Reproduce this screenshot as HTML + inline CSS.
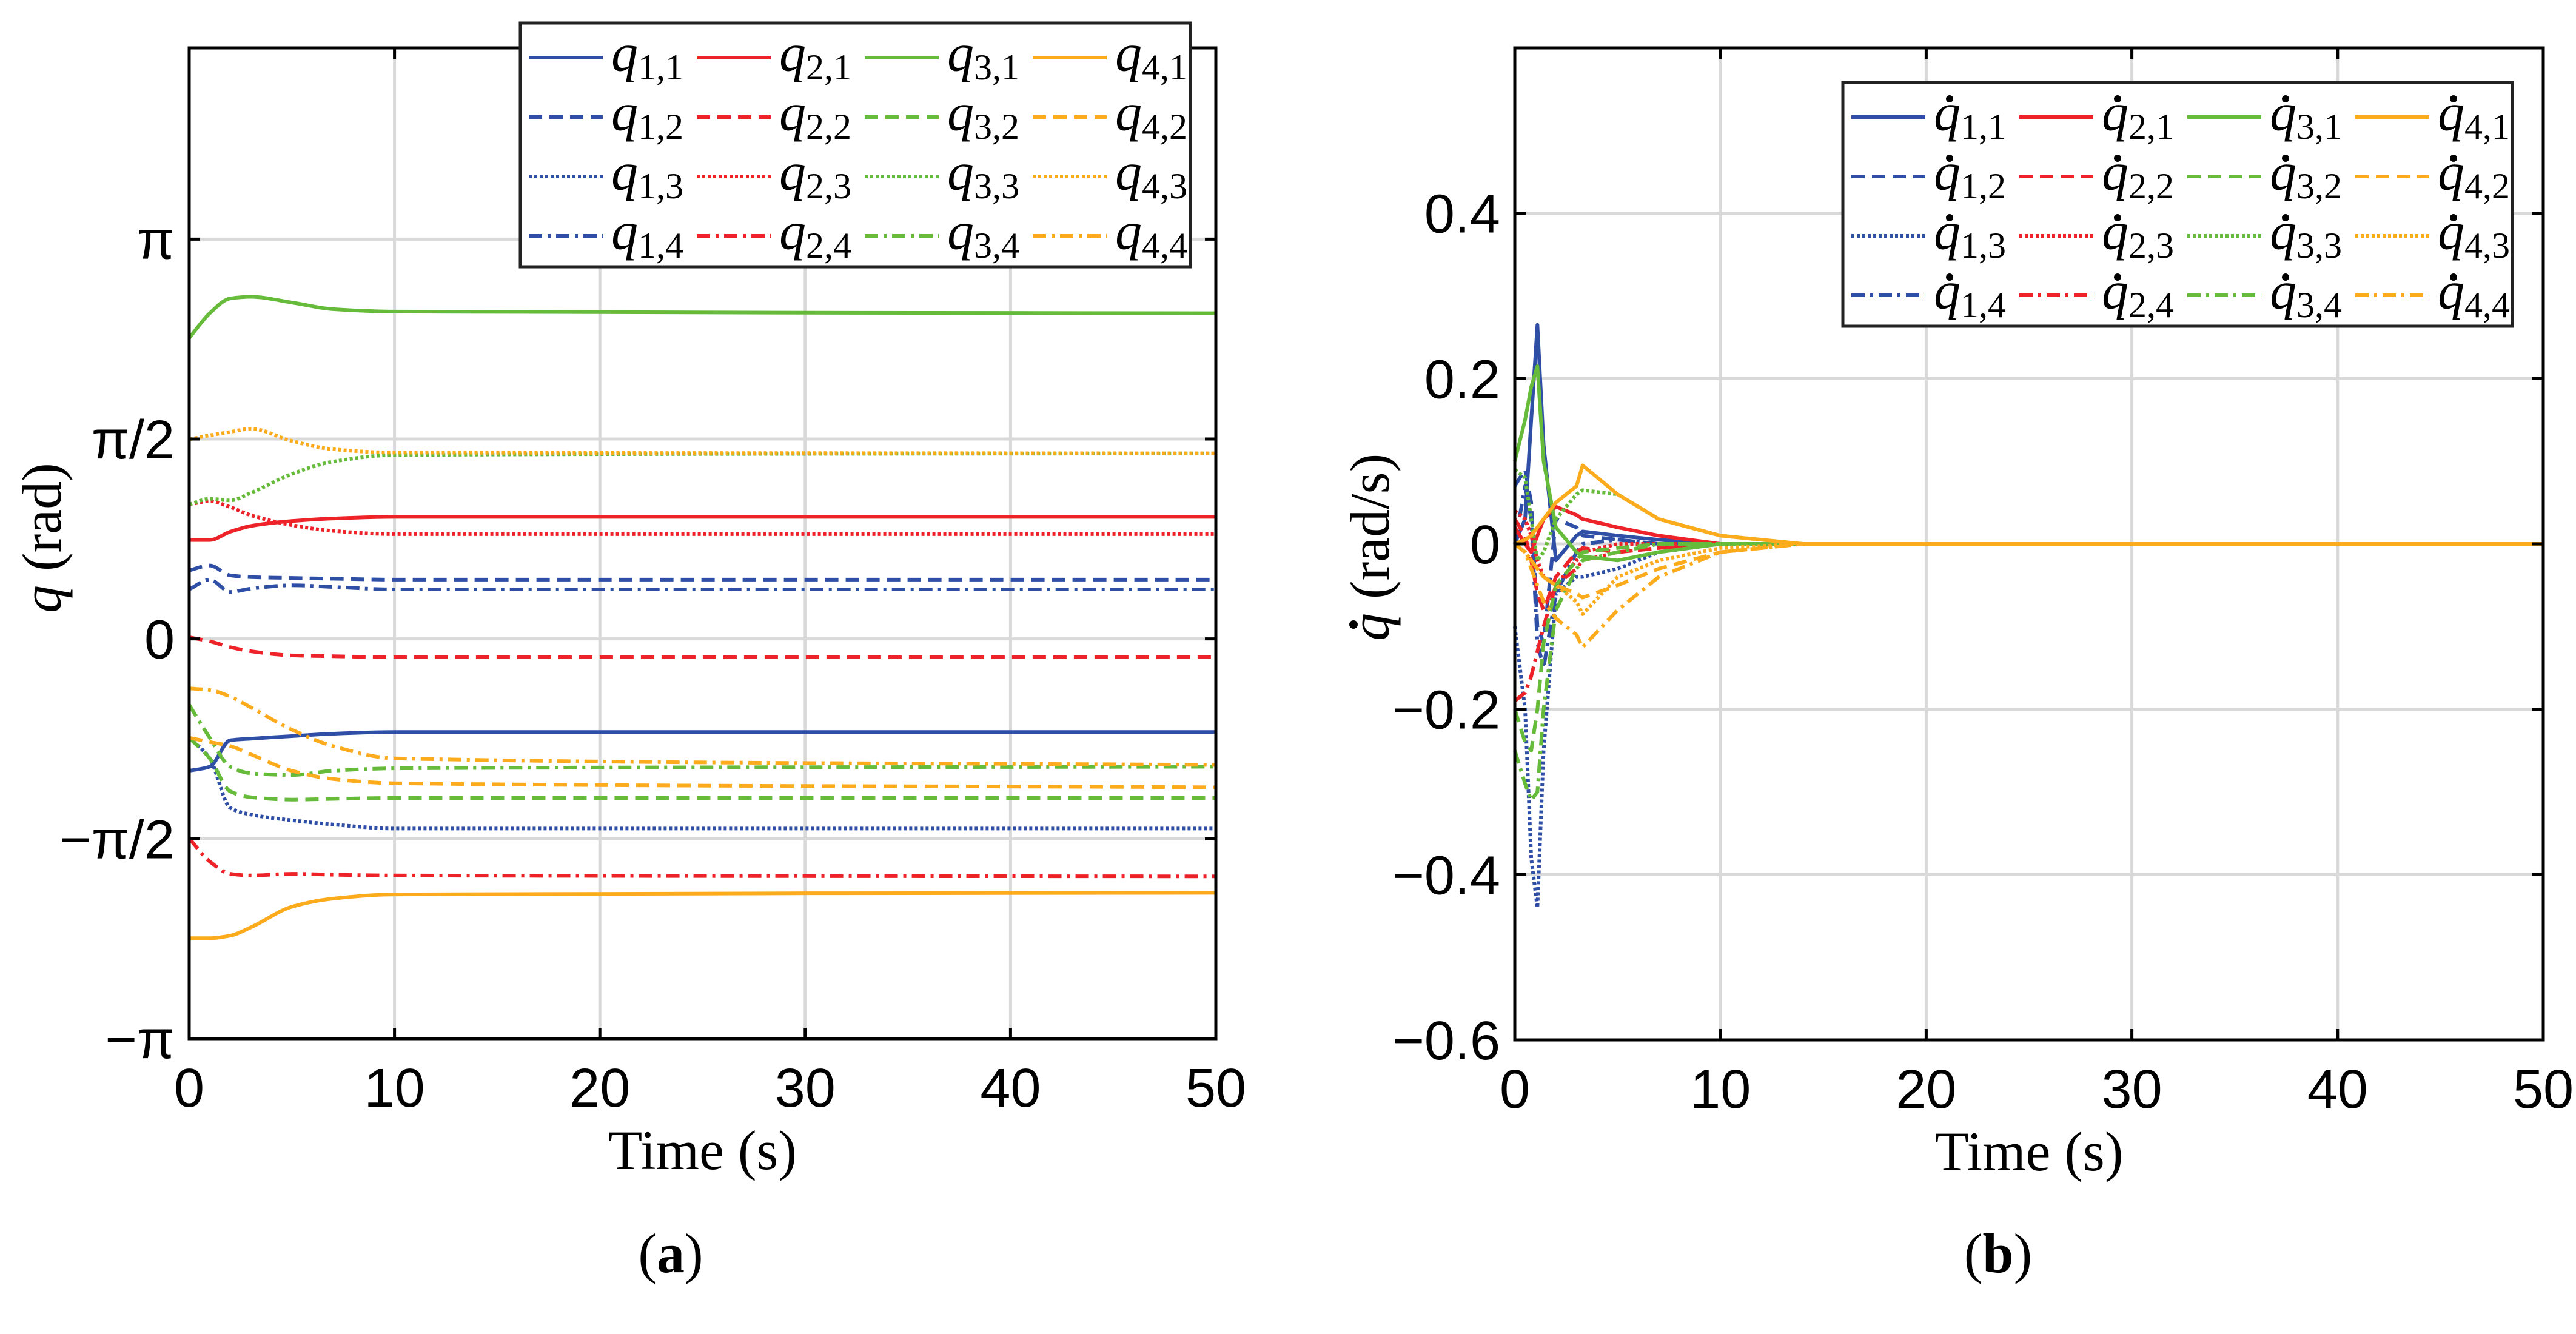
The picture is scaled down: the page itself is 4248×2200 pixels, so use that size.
<!DOCTYPE html>
<html><head><meta charset="utf-8"><style>
html,body{margin:0;padding:0;background:#fff}
svg{display:block}
.tick{font-family:"Liberation Sans",sans-serif;font-size:90px;fill:#000}
.lab{font-family:"Liberation Serif",serif;font-size:92px;fill:#000}
.leg{font-family:"Liberation Serif",serif;fill:#000}
</style></head><body>
<svg id="fig" width="4248" height="2200" viewBox="0 0 4248 2200" xmlns="http://www.w3.org/2000/svg">
<rect width="4248" height="2200" fill="#fff"/>
<g id="pa"></g>
<g id="pb"></g>
</svg>
<script>
// ---- Panel (a) data: joint angles (rad) ----
const timesA = [0,1,2,3,5,7,10,50];
const q11 = [-1.036,-1.004,-0.797,-0.784,-0.764,-0.745,-0.732,-0.732];
const q12 = [0.538,0.577,0.499,0.486,0.479,0.473,0.466,0.466];
const q13 = [-0.777,-0.939,-1.328,-1.380,-1.425,-1.458,-1.490,-1.490];
const q14 = [0.389,0.466,0.369,0.395,0.421,0.408,0.389,0.389];
const q21 = [0.777,0.777,0.842,0.887,0.926,0.946,0.959,0.959];
const q22 = [0.013,-0.019,-0.065,-0.097,-0.130,-0.136,-0.143,-0.143];
const q23 = [1.056,1.082,1.036,0.972,0.894,0.849,0.823,0.823];
const q24 = [-1.568,-1.749,-1.846,-1.859,-1.846,-1.853,-1.859,-1.866];
const q31 = [2.364,2.559,2.675,2.688,2.643,2.591,2.572,2.559];
const q32 = [-0.777,-0.939,-1.198,-1.244,-1.263,-1.257,-1.250,-1.250];
const q33 = [1.056,1.101,1.088,1.147,1.296,1.393,1.445,1.458];
const q34 = [-0.518,-0.777,-1.004,-1.056,-1.069,-1.036,-1.017,-1.004];
const q41 = [-2.352,-2.352,-2.332,-2.267,-2.105,-2.041,-2.008,-1.995];
const q42 = [-0.777,-0.810,-0.842,-0.907,-1.036,-1.101,-1.134,-1.166];
const q43 = [1.568,1.600,1.626,1.652,1.555,1.490,1.464,1.458];
const q44 = [-0.389,-0.402,-0.453,-0.538,-0.713,-0.842,-0.939,-0.991];
const yTicksA = [Math.PI,Math.PI/2,0,-Math.PI/2,-Math.PI];
const yTickLabelsA = ["π","π/2","0","−π/2","−π"];
const xTicks = [0,10,20,30,40,50];
const xTickLabels = ["0","10","20","30","40","50"];
// ---- Panel (b) data: joint velocities (rad/s) ----
const timesB = [0,0.5,0.8,1.1,1.4,2,3,3.3,5,7,10,14,50];
const dq11 = [0,0.03,0.15,0.265,0.12,-0.02,0.01,0.015,0.01,0.005,0,0,0];
const dq12 = [0.07,0.09,0.05,-0.10,-0.12,0.03,0.02,0.01,0.005,0,0,0,0];
const dq13 = [-0.1,-0.2,-0.38,-0.44,-0.25,-0.06,-0.04,-0.04,-0.03,-0.01,0,0,0];
const dq14 = [0,0.07,0.03,-0.12,-0.15,-0.06,-0.01,0,0.005,0,0,0,0];
const dq21 = [0.02,0,-0.01,0.01,0.03,0.045,0.035,0.03,0.02,0.01,0,0,0];
const dq22 = [0.03,0.01,-0.02,-0.06,-0.08,-0.04,-0.01,-0.005,-0.01,-0.005,0,0,0];
const dq23 = [0.04,0.03,0.01,-0.02,-0.04,-0.05,-0.02,-0.01,0,0,0,0,0];
const dq24 = [-0.19,-0.18,-0.16,-0.13,-0.1,-0.05,-0.03,-0.02,-0.01,-0.005,0,0,0];
const dq31 = [0.1,0.15,0.19,0.215,0.1,0.02,-0.01,-0.015,-0.02,-0.01,0,0,0];
const dq32 = [-0.2,-0.24,-0.25,-0.2,-0.12,-0.05,-0.02,-0.01,-0.005,0,0,0,0];
const dq33 = [0.09,0.08,0.03,-0.02,-0.01,0.03,0.06,0.065,0.06,0.03,0.01,0,0];
const dq34 = [-0.25,-0.29,-0.31,-0.3,-0.2,-0.08,-0.03,-0.02,-0.01,0,0,0,0];
const dq41 = [0,0.005,0.01,0.02,0.03,0.05,0.07,0.095,0.06,0.03,0.01,0,0];
const dq42 = [0,-0.01,-0.02,-0.03,-0.04,-0.05,-0.06,-0.065,-0.05,-0.03,-0.01,0,0];
const dq43 = [0,-0.01,-0.02,-0.03,-0.04,-0.05,-0.07,-0.085,-0.04,-0.02,-0.005,0,0];
const dq44 = [0,-0.01,-0.03,-0.05,-0.07,-0.09,-0.11,-0.125,-0.08,-0.04,-0.01,0,0];
const yTicksB = [0.4,0.2,0,-0.2,-0.4,-0.6];
const yTickLabelsB = ["0.4","0.2","0","−0.2","−0.4","−0.6"];

const NS="http://www.w3.org/2000/svg";
const COLORS=["#2f4fa6","#ee2229","#66bb3a","#fcab1d"];
const DASH=["none","22 12","5 4","22 9 5 9"];
function mk(tag,attrs,parent){const e=document.createElementNS(NS,tag);for(const k in attrs)e.setAttribute(k,attrs[k]);parent.appendChild(e);return e;}

function smoothPath(pts){
  const n=pts.length;const dx=[],m=[],t=[];
  for(let i=0;i<n-1;i++){dx.push(pts[i+1][0]-pts[i][0]);m.push((pts[i+1][1]-pts[i][1])/dx[i]);}
  t[0]=m[0];t[n-1]=m[n-2];
  for(let i=1;i<n-1;i++){ if(m[i-1]*m[i]<=0){t[i]=0;} else {const w1=2*dx[i]+dx[i-1],w2=dx[i]+2*dx[i-1];t[i]=(w1+w2)/(w1/m[i-1]+w2/m[i]);} }
  let d="M"+pts[0][0].toFixed(1)+","+pts[0][1].toFixed(1);
  for(let i=0;i<n-1;i++){const h=dx[i]/3;
    d+=" C"+(pts[i][0]+h).toFixed(1)+","+(pts[i][1]+h*t[i]).toFixed(1)+" "+(pts[i+1][0]-h).toFixed(1)+","+(pts[i+1][1]-h*t[i+1]).toFixed(1)+" "+pts[i+1][0].toFixed(1)+","+pts[i+1][1].toFixed(1);}
  return d;
}

function panel(g,cfg){
  const {L,R,T,B,ymin,ymax}=cfg;
  const X=v=>L+(v-0)/(50-0)*(R-L);
  const Y=v=>B-(v-ymin)/(ymax-ymin)*(B-T);
  mk("rect",{x:L,y:T,width:R-L,height:B-T,fill:"#fff"},g);
  xTicks.forEach((v,i)=>{ if(i>0&&i<xTicks.length-1){const l=mk("line",{x1:X(v),x2:X(v),y1:T,y2:B,stroke:"#d9d9d9","stroke-width":5},g);
    
    }});
  cfg.yt.forEach((v)=>{ if(Y(v)>T+3&&Y(v)<B-3){const l=mk("line",{x1:L,x2:R,y1:Y(v),y2:Y(v),stroke:"#d9d9d9","stroke-width":5},g);
    
    }});
  const sg=mk("g",{},g);
  cfg.series.forEach((s,i)=>{
    const pts=cfg.times.map((t,k)=>[X(t),Y(s[k])]);
    const p=mk("path",{d:cfg.smooth?smoothPath(pts):"M"+pts.map(p=>p[0].toFixed(1)+","+p[1].toFixed(1)).join(" L"),fill:"none",stroke:COLORS[Math.floor(i/4)],"stroke-width":6,"stroke-dasharray":DASH[i%4],"stroke-linejoin":"round"},sg);
    
    
  });
  const fr=mk("rect",{x:L,y:T,width:R-L,height:B-T,fill:"none",stroke:"#000","stroke-width":5},g);
  
  
  xTicks.forEach((v,i)=>{
    mk("line",{x1:X(v),x2:X(v),y1:B,y2:B-18,stroke:"#000","stroke-width":5},g);
    mk("line",{x1:X(v),x2:X(v),y1:T,y2:T+18,stroke:"#000","stroke-width":5},g);
    const t=mk("text",{x:X(v),y:B+112,"text-anchor":"middle",class:"tick"},g);t.textContent=xTickLabels[i];
    
    
  });
  cfg.yt.forEach((v,i)=>{
    mk("line",{x1:L,x2:L+18,y1:Y(v),y2:Y(v),stroke:"#000","stroke-width":5},g);
    mk("line",{x1:R,x2:R-18,y1:Y(v),y2:Y(v),stroke:"#000","stroke-width":5},g);
    const t=mk("text",{x:L-24,y:Y(v)+32,"text-anchor":"end",class:"tick"},g);t.textContent=cfg.ytl[i];
    
    
  });
  const xl=mk("text",{x:(L+R)/2,y:B+215,"text-anchor":"middle",class:"lab","font-size":100},g);xl.textContent="Time (s)";
  
  
  // y label (rotated group)
  const yg=mk("g",{transform:`translate(${cfg.ylx},${(T+B)/2}) rotate(-90)`},g);
  
  
  const yl=mk("text",{x:-cfg.ylTextW/2,y:0,class:"lab","font-size":100},yg);
  const yq=mk("tspan",{"font-style":"italic"},yl);yq.textContent="q";
  const yr=mk("tspan",{},yl);yr.textContent=" (rad"+cfg.yunit+")";
  if(cfg.dot){mk("circle",{cx:-cfg.ylTextW/2+27,cy:-58,r:7,fill:"#000"},yg);}
  const cap=mk("text",{x:cfg.capX,y:2098,"text-anchor":"middle",class:"lab","font-size":76},g);
  
  
  mk("tspan",{},cap).textContent="(";
  mk("tspan",{"font-weight":"bold"},cap).textContent=cfg.cap;
  mk("tspan",{},cap).textContent=")";
  const lg=mk("g",{},g);
  
  
  const lb=cfg.leg;
  mk("rect",{x:lb.x,y:lb.y,width:lb.w,height:lb.h,fill:"#fff",stroke:"#222","stroke-width":5},lg);
  for(let c=0;c<4;c++)for(let r=0;r<4;r++){
    const x0=lb.x+14+c*277, yy=lb.y+57+r*98;
    const ln=mk("line",{x1:x0,x2:x0+122,y1:yy,y2:yy,stroke:COLORS[c],"stroke-width":6,"stroke-dasharray":DASH[r]},lg);
    
    
    const tx=mk("text",{x:x0+136,y:yy+22,class:"leg"},lg);
    
    
    mk("tspan",{"font-style":"italic","font-size":88},tx).textContent="q";
    mk("tspan",{"font-size":60,dy:14},tx).textContent=(c+1)+","+(r+1);
    if(cfg.dot) mk("circle",{cx:x0+162,cy:yy-30,r:6,fill:"#000"},lg);
  }
}

panel(document.getElementById("pa"),{L:312,R:2005,T:79,B:1713,ymin:-Math.PI,ymax:4.644,
  yt:yTicksA,ytl:yTickLabelsA,times:timesA,smooth:true,prefix:"q",
  series:[q11,q12,q13,q14,q21,q22,q23,q24,q31,q32,q33,q34,q41,q42,q43,q44],
  ylx:100,ylTextW:230,yunit:"",dot:false,capX:1106,cap:"a",leg:{x:858,y:38,w:1105,h:402}});
panel(document.getElementById("pb"),{L:2498,R:4194,T:79,B:1715,ymin:-0.6,ymax:0.6,
  yt:yTicksB,ytl:yTickLabelsB,times:timesB,smooth:false,prefix:"dq",
  series:[dq11,dq12,dq13,dq14,dq21,dq22,dq23,dq24,dq31,dq32,dq33,dq34,dq41,dq42,dq43,dq44],
  ylx:2290,ylTextW:320,yunit:"/s",dot:true,capX:3295,cap:"b",leg:{x:3039,y:136,w:1104,h:402}});
</script>
</body></html>
